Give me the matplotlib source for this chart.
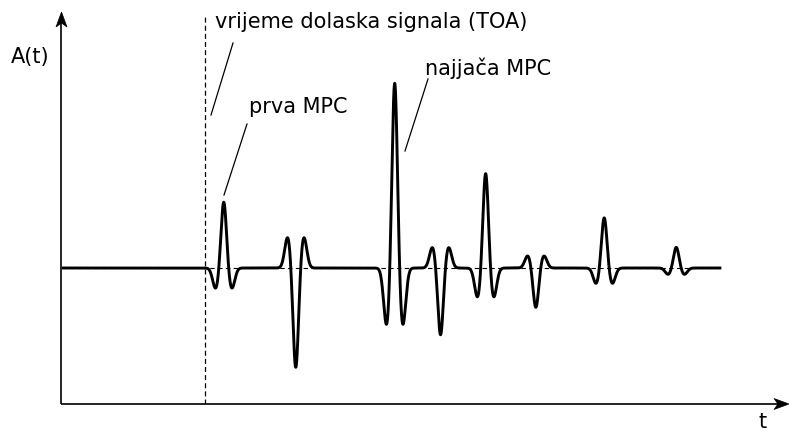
import numpy as np
import matplotlib
matplotlib.use("Agg")
import matplotlib.pyplot as plt
from matplotlib.patches import Polygon

# ---- data (time units 0..100, amplitude relative to strongest MPC) ----
pulse_times = [22.3, 32.2, 45.8, 52.1, 58.3, 65.2, 74.6, 84.5]
pulse_amps = [0.36, -0.543, 1.01, -0.365, 0.516, -0.215, 0.274, 0.113]
toa_time = 19.7
signal_end = 90.5
# pulse shape: main lobe width, side lobe offset / width / relative depth
main_sigma = 0.37
side_offset = 1.10
side_sigma = 0.41
side_ratio = 0.31

label_toa = "vrijeme dolaska signala (TOA)"
label_first = "prva MPC"
label_strongest = "najjača MPC"
label_y = "A(t)"
label_x = "t"

W, H = 789, 435
fig = plt.figure(figsize=(W / 100, H / 100), dpi=100)

# main axes: x-axis at y=405 px, y-axis at x=61.5 px
x0, y0 = 61.5, 405
ax = fig.add_axes([x0 / W, (H - y0) / H, (W - x0) / W, (y0 - 14) / H])
ax.set_xlim(0, 100)
ax.set_ylim(-136 / 186, 255 / 186)
ax.axis("off")


def gauss(d, sig):
    return np.exp(-d ** 2 / (2 * sig ** 2))


t = np.linspace(0, signal_end, 8000)
s = np.zeros_like(t)
for tc, a in zip(pulse_times, pulse_amps):
    d = t - tc
    s += a * (gauss(d, main_sigma)
              - side_ratio * (gauss(d - side_offset, side_sigma) + gauss(d + side_offset, side_sigma)))

ax.plot([0, signal_end], [0, 0], color="black", lw=0.8, ls=(0, (4, 3)), zorder=1)
ax.plot(t, s, color="black", lw=2.1, zorder=2, solid_joinstyle="round")
ax.axvline(toa_time, ymin=0, ymax=0.997, color="black", lw=0.9, ls=(0, (4, 2.5)), zorder=1)

# overlay in pixel coordinates for axes arrows and annotations
ov = fig.add_axes([0, 0, 1, 1])
ov.set_xlim(0, W)
ov.set_ylim(H, 0)
ov.axis("off")
ov.patch.set_alpha(0)

ov.plot([x0, x0], [y0, 20], color="black", lw=1.2, solid_capstyle="butt")
ov.plot([x0, 783], [y0, y0], color="black", lw=1.2, solid_capstyle="butt")
ov.add_patch(Polygon([(x0, 13), (x0 - 5.5, 28), (x0, 24), (x0 + 5.5, 28)], closed=True,
                     facecolor="black", edgecolor="black", lw=0.5))
ov.add_patch(Polygon([(789, y0), (774, y0 - 5.5), (778, y0), (774, y0 + 5.5)], closed=True,
                     facecolor="black", edgecolor="black", lw=0.5))

fs = 15
ov.text(215, 22, label_toa, fontsize=fs, va="center", ha="left", family="DejaVu Sans")
ov.text(249, 107, label_first, fontsize=fs, va="center", ha="left", family="DejaVu Sans")
ov.text(425, 68, label_strongest, fontsize=fs, va="center", ha="left", family="DejaVu Sans")
ov.text(11, 57, label_y, fontsize=fs, va="center", ha="left", family="DejaVu Sans")
ov.text(763, 422, label_x, fontsize=fs, va="center", ha="center", family="DejaVu Sans")

for (xa, ya, xb, yb) in [(233, 44, 211, 116), (247, 125, 224, 196), (428, 80, 405, 152)]:
    ov.plot([xa, xb], [ya, yb], color="black", lw=0.9)

fig.savefig("out.png", dpi=100)
